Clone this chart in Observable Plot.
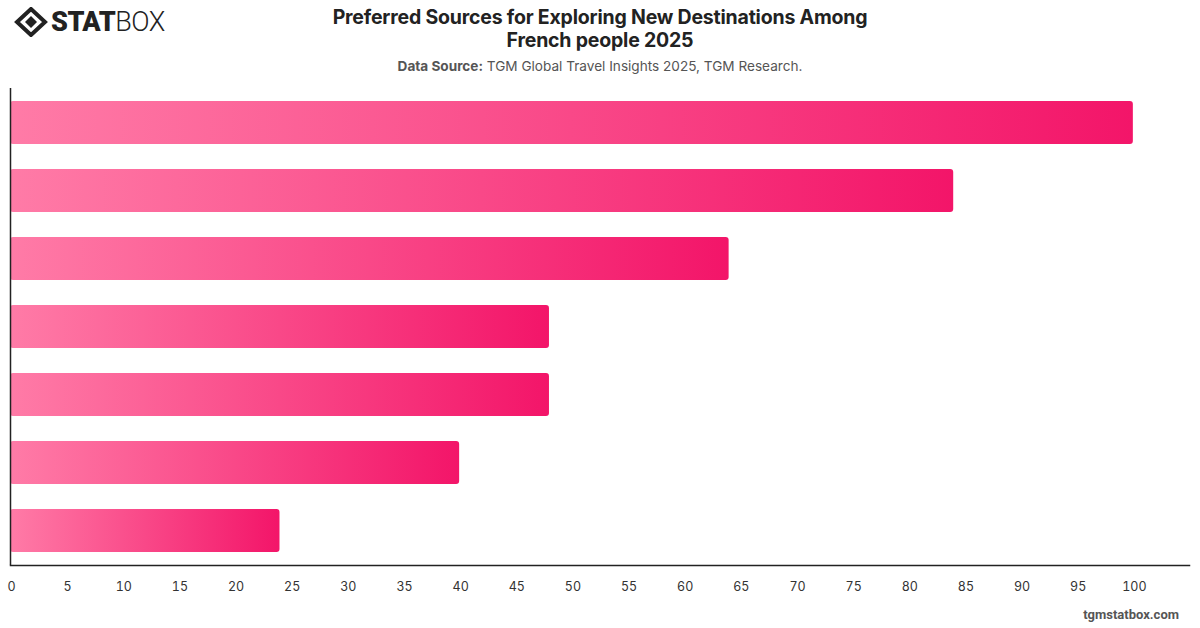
<!DOCTYPE html>
<html>
<head>
<meta charset="utf-8">
<script src="https://cdn.jsdelivr.net/npm/d3@7"></script>
<script src="https://cdn.jsdelivr.net/npm/@observablehq/plot@0.6"></script>
<style>
  html, body { margin: 0; padding: 0; background: #fff; }
  body { width: 1200px; height: 628px; position: relative; overflow: hidden; font-family: Inter, "Helvetica Neue", Arial, sans-serif; }
  #header { position: absolute; left: 0; top: 0; width: 1200px; height: 80px; }
  #logo { position: absolute; left: 14px; top: 7px; display: flex; align-items: center; }
  #logo .txt { font-family: Roboto, Inter, sans-serif; font-size: 27px; line-height: 30px; color: #222; letter-spacing: -0.5px; margin-left: 3px; }
  #logo .txt b { font-weight: 900; }
  #logo .txt span { font-weight: 300; }
  #title { position: absolute; left: 250px; width: 700px; top: 6px; text-align: center; font-size: 19.5px; font-weight: 700; line-height: 23px; color: #222; letter-spacing: -0.2px; }
  #subtitle { position: absolute; left: 250px; width: 700px; top: 58px; text-align: center; font-size: 13.6px; color: #555; }
  #subtitle b { font-weight: 700; color: #555; }
  #chart { position: absolute; left: 0; top: 80px; }
  #footer { position: absolute; right: 21px; top: 607px; font-family: Roboto, Inter, sans-serif; font-size: 13px; font-weight: 700; color: #555; }
</style>
</head>
<body>
<div id="header">
  <div id="logo">
    <svg width="34" height="30" viewBox="0 0 34 30">
      <polygon points="17,2 31,15 17,28 3,15" fill="none" stroke="#222" stroke-width="4" stroke-linejoin="miter"/>
      <polygon points="17,9 23,15 17,21 11,15" fill="#222"/>
    </svg>
    <div class="txt"><b>STAT</b><span>BOX</span></div>
  </div>
  <div id="title">Preferred Sources for Exploring New Destinations Among<br>French people 2025</div>
  <div id="subtitle"><b>Data Source:</b> TGM Global Travel Insights 2025, TGM Research.</div>
</div>
<div id="chart"></div>
<div id="footer">tgmstatbox.com</div>
<script>
// Data (category labels are not shown in the reference)
const categories = ["Source 1", "Source 2", "Source 3", "Source 4", "Source 5", "Source 6", "Source 7"];
const values = [100, 84, 64, 48, 48, 40, 24];
const xTicks = [0, 5, 10, 15, 20, 25, 30, 35, 40, 45, 50, 55, 60, 65, 70, 75, 80, 85, 90, 95, 100];

const data = categories.map((c, i) => ({category: c, value: values[i]}));

const gradientDefs = () => {
  const svg = d3.create("svg:g");
  const defs = svg.append("defs");
  const g = defs.append("linearGradient").attr("id", "barGrad").attr("x1", "0").attr("x2", "1").attr("y1", "0").attr("y2", "0");
  g.append("stop").attr("offset", "0%").attr("stop-color", "#ff7ba7");
  g.append("stop").attr("offset", "100%").attr("stop-color", "#f31569");
  return svg.node();
};

const plot = Plot.plot({
  width: 1200,
  height: 548,
  marginTop: 8,
  marginBottom: 63,
  marginLeft: 10,
  marginRight: 11,
  style: {fontFamily: "Inter, 'Helvetica Neue', Arial, sans-serif", fontSize: "12.5px", color: "#333", background: "#fff"},
  x: {domain: [0, 105], label: null},
  y: {domain: categories, paddingInner: 0.37, paddingOuter: 0.184, axis: null, label: null},
  marks: [
    gradientDefs,
    Plot.barX(data, {x: "value", y: "category", fill: "url(#barGrad)", rx: 3}),
    Plot.ruleX([0], {stroke: "#222", strokeWidth: 1.5}),
    Plot.frame({anchor: "bottom", stroke: "#222", strokeWidth: 1.5}),
    Plot.axisX({ticks: xTicks, tickSize: 0, tickPadding: 17, tickFormat: d => String(d), dx: 1, fill: "#333", fontSize: 12.5})
  ]
});
document.getElementById("chart").appendChild(plot);
</script>
</body>
</html>
